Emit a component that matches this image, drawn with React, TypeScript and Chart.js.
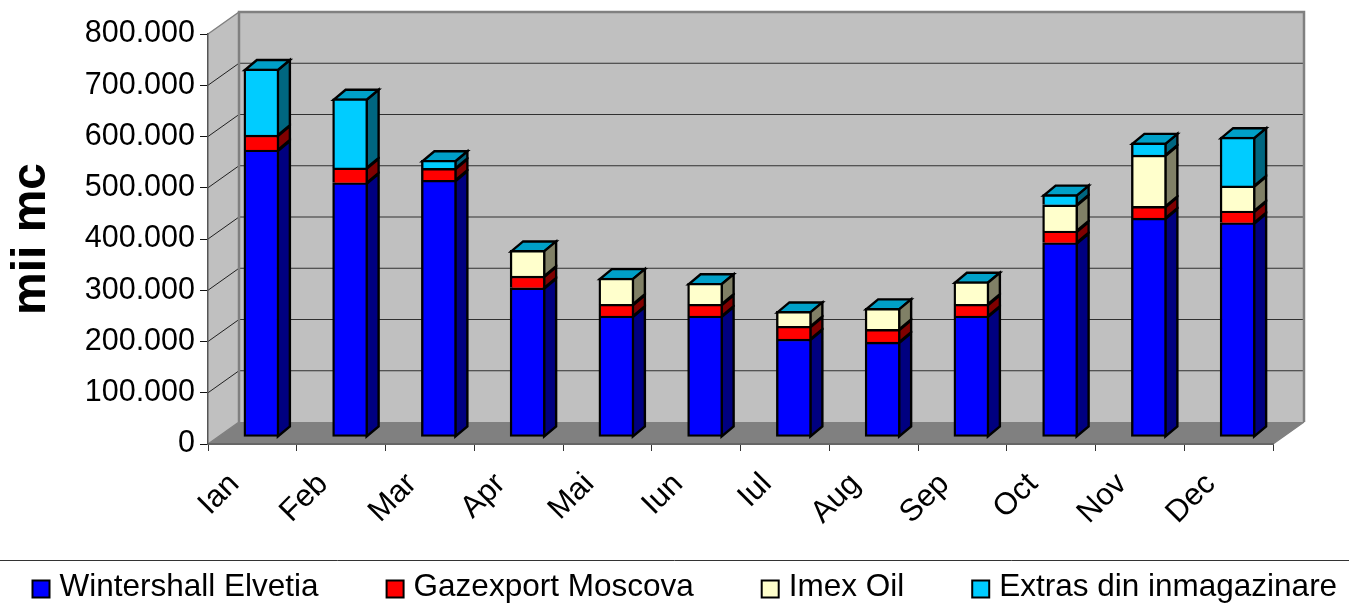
import React, { useEffect, useRef } from "react";
import { Chart, registerables } from "chart.js";

Chart.register(...registerables);

const months = ["Ian", "Feb", "Mar", "Apr", "Mai", "Iun", "Iul", "Aug", "Sep", "Oct", "Nov", "Dec"];
const wintershall = [560000, 496000, 501000, 291000, 236000, 236000, 191000, 185000, 236000, 379000, 427000, 418000];
const gazexport = [29000, 29000, 23000, 23000, 23000, 23000, 25000, 25000, 23000, 23000, 23000, 23000];
const imex = [0, 0, 0, 50000, 51000, 41000, 29000, 41000, 44000, 51000, 100000, 49000];
const extras = [129000, 135000, 16000, 0, 0, 0, 0, 0, 0, 20000, 24000, 95000];
const seriesNames = ["Wintershall Elvetia", "Gazexport Moscova", "Imex Oil", "Extras din inmagazinare"];
const frontColors = ["#0000FF", "#FF0000", "#FFFFCC", "#00CCFF"];
const sideColors = ["#000080", "#800000", "#808066", "#006680"];
const topColor = "#00A0C8";

const FONT = "'Liberation Sans', Arial, sans-serif";
const WALL = { dx: 31, dy: -22 };
const BAR_SHIFT = { dx: 9, dy: -7 };
const BAR_DEPTH = { dx: 12, dy: -10 };
const LEGEND = { x: 31.5, textGap: 28, padding: 67, textY: 587.5, boxTop: 580.5, boxSize: 18, ruleY: 560.5, size: 31.5 };

function poly(ctx: CanvasRenderingContext2D, pts: number[][], fill?: string, stroke?: string, lw = 1) {
  ctx.beginPath();
  pts.forEach((p, i) => (i ? ctx.lineTo(p[0], p[1]) : ctx.moveTo(p[0], p[1])));
  ctx.closePath();
  if (fill) {
    ctx.fillStyle = fill;
    ctx.fill();
  }
  if (stroke) {
    ctx.strokeStyle = stroke;
    ctx.lineWidth = lw;
    ctx.stroke();
  }
}

const scenePlugin = {
  id: "scene3d",
  beforeDraw(chart: any) {
    const { ctx, chartArea: a, scales } = chart;
    const { dx, dy } = WALL;
    ctx.save();
    // side wall, back wall, floor
    poly(ctx, [[a.left, a.top], [a.left + dx, a.top + dy], [a.left + dx, a.bottom + dy], [a.left, a.bottom]], "#C0C0C0");
    poly(ctx, [[a.left + dx, a.top + dy], [a.right + dx, a.top + dy], [a.right + dx, a.bottom + dy], [a.left + dx, a.bottom + dy]], "#C0C0C0");
    poly(ctx, [[a.left, a.bottom], [a.right, a.bottom], [a.right + dx, a.bottom + dy], [a.left + dx, a.bottom + dy]], "#808080");
    // gridlines on the walls
    scales.y.ticks.forEach((t: any) => {
      const y = scales.y.getPixelForValue(t.value);
      if (t.value === 0 || t.value === scales.y.max) return;
      ctx.strokeStyle = "#202020";
      ctx.lineWidth = 1;
      ctx.beginPath();
      ctx.moveTo(a.left, y);
      ctx.lineTo(a.left + dx, y + dy);
      ctx.stroke();
      ctx.strokeStyle = "#303030";
      ctx.lineWidth = 1.2;
      ctx.beginPath();
      ctx.moveTo(a.left + dx, y + dy);
      ctx.lineTo(a.right + dx, y + dy);
      ctx.stroke();
    });
    // wall outlines
    ctx.strokeStyle = "#808080";
    ctx.lineWidth = 2.5;
    ctx.beginPath();
    ctx.moveTo(a.left + dx, a.bottom + dy);
    ctx.lineTo(a.left + dx, a.top + dy);
    ctx.lineTo(a.right + dx, a.top + dy);
    ctx.lineTo(a.right + dx, a.bottom + dy);
    ctx.stroke();
    ctx.lineWidth = 1.5;
    ctx.beginPath();
    ctx.moveTo(a.left, a.top);
    ctx.lineTo(a.left + dx, a.top + dy);
    ctx.moveTo(a.left, a.bottom);
    ctx.lineTo(a.left + dx, a.bottom + dy);
    ctx.moveTo(a.right, a.bottom);
    ctx.lineTo(a.right + dx, a.bottom + dy);
    ctx.stroke();
    ctx.restore();
  },
  beforeDatasetDraw(chart: any, args: any) {
    const { ctx } = chart;
    const i = args.index;
    ctx.save();
    ctx.translate(BAR_SHIFT.dx, BAR_SHIFT.dy);
    ctx.lineJoin = "miter";
    args.meta.data.forEach((el: any) => {
      const r = el.x + el.width / 2 - 1;
      const l = el.x - el.width / 2 + 1;
      const top = el.y + 1;
      const base = el.base;
      if (Math.abs(base - el.y) > 0.5) {
        poly(ctx, [[r, top], [r + BAR_DEPTH.dx, top + BAR_DEPTH.dy], [r + BAR_DEPTH.dx, base + BAR_DEPTH.dy], [r, base]], sideColors[i], "#000", 2.4);
      }
      if (i === frontColors.length - 1) {
        poly(ctx, [[l, top], [r, top], [r + BAR_DEPTH.dx, top + BAR_DEPTH.dy], [l + BAR_DEPTH.dx, top + BAR_DEPTH.dy]], topColor, "#000", 2.4);
      }
    });
  },
  afterDatasetDraw(chart: any) {
    chart.ctx.restore();
  },
  afterDraw(chart: any) {
    const { ctx } = chart;
    ctx.save();
    ctx.strokeStyle = "#333333";
    ctx.lineWidth = 1;
    ctx.beginPath();
    ctx.moveTo(0, LEGEND.ruleY);
    ctx.lineTo(chart.width, LEGEND.ruleY);
    ctx.stroke();
    ctx.font = `${LEGEND.size}px ${FONT}`;
    ctx.textBaseline = "middle";
    ctx.textAlign = "left";
    let x = LEGEND.x;
    seriesNames.forEach((name, i) => {
      ctx.fillStyle = frontColors[i];
      ctx.strokeStyle = "#000";
      ctx.lineWidth = 2;
      ctx.fillRect(x + 1, LEGEND.boxTop, LEGEND.boxSize - 1, LEGEND.boxSize - 1);
      ctx.strokeRect(x + 1, LEGEND.boxTop, LEGEND.boxSize - 1, LEGEND.boxSize - 1);
      ctx.fillStyle = "#000";
      ctx.fillText(name, x + LEGEND.textGap, LEGEND.textY);
      x += LEGEND.textGap + ctx.measureText(name).width + LEGEND.padding;
    });
    ctx.restore();
  },
};

const seriesValues = [wintershall, gazexport, imex, extras];

export default function App() {
  const ref = useRef<HTMLCanvasElement>(null);
  useEffect(() => {
    const chart = new Chart(ref.current!, {
      type: "bar",
      plugins: [scenePlugin],
      data: {
        labels: months,
        datasets: seriesNames.map((name, i) => ({
          label: name,
          data: seriesValues[i],
          backgroundColor: frontColors[i],
          borderColor: "#000000",
          borderWidth: 2.4,
          borderSkipped: i === 0 ? false : "start",
          barThickness: 35,
          clip: false,
        })),
      },
      options: {
        responsive: false,
        animation: false,
        layout: { padding: { left: 0, right: 76, top: 34, bottom: 0 } },
        scales: {
          x: {
            stacked: true,
            grid: { drawOnChartArea: false, tickLength: 7, color: "#333333", offset: true },
            border: { color: "#666666", width: 2 },
            ticks: {
              autoSkip: false,
              minRotation: 45,
              maxRotation: 45,
              color: "#000",
              padding: 15,
              labelOffset: -18,
              font: { family: FONT, size: 31 },
            },
            afterFit(s: any) {
              s.height = 160;
            },
          },
          y: {
            stacked: true,
            min: 0,
            max: 800000,
            grid: { drawOnChartArea: false, tickLength: 8, color: "#111111" },
            border: { color: "#555555", width: 1.5 },
            title: {
              display: true,
              text: "mii mc",
              color: "#000",
              padding: { top: 3, bottom: 0 },
              font: { family: FONT, size: 48, weight: "bold" },
            },
            ticks: {
              stepSize: 100000,
              color: "#000",
              padding: 5,
              font: { family: FONT, size: 30.5 },
              callback: (v: any) => String(v).replace(/\B(?=(\d{3})+$)/g, "."),
            },
            afterFit(s: any) {
              s.width = 208;
            },
          },
        },
        plugins: {
          tooltip: { enabled: false },
          legend: { display: false },
        },
      },
    } as any);
    return () => chart.destroy();
  }, []);
  return (
    <div style={{ position: "fixed", left: 0, top: 0, width: 1349, height: 604 }}>
      <canvas ref={ref} width={1349} height={604} style={{ display: "block" }} />
    </div>
  );
}
